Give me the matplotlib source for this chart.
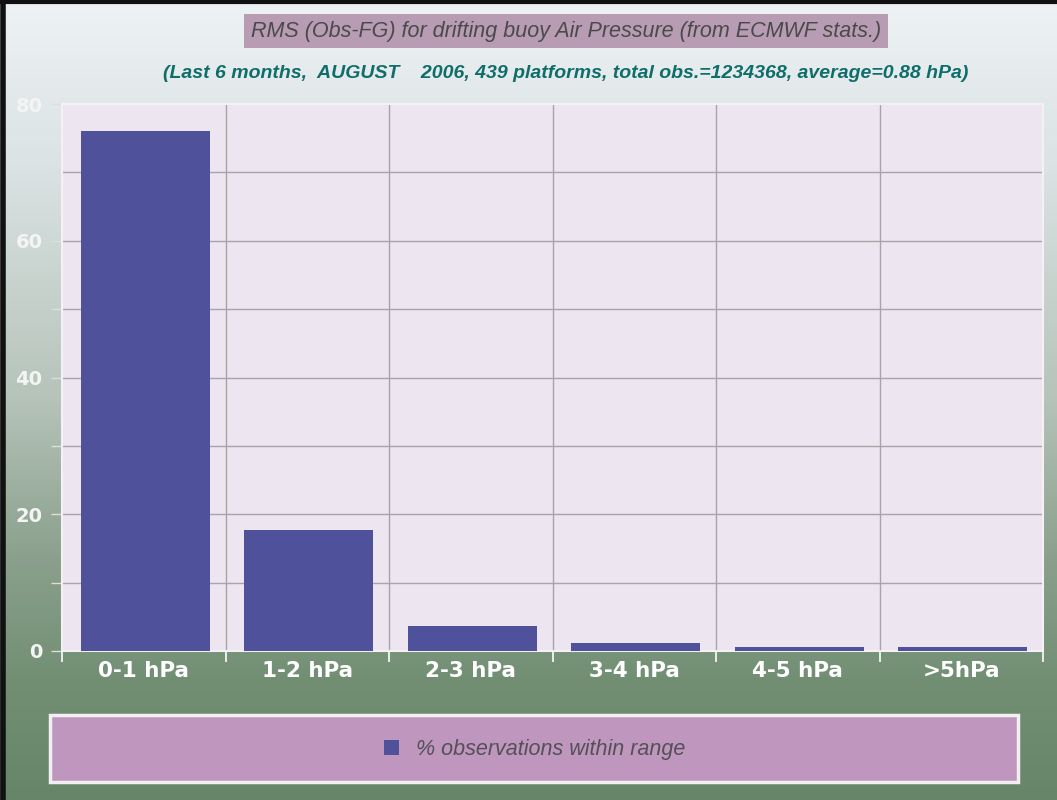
import matplotlib.pyplot as plt
import numpy as np
from matplotlib.patches import Rectangle
from matplotlib.colors import LinearSegmentedColormap

categories = ["0-1 hPa", "1-2 hPa", "2-3 hPa", "3-4 hPa", "4-5 hPa", ">5hPa"]
percent = [76.0, 17.7, 3.7, 1.2, 0.6, 0.6]

title = "RMS (Obs-FG) for drifting buoy Air Pressure (from ECMWF stats.)"
subtitle = ("(Last 6 months,  AUGUST    2006, 439 platforms, total obs.=1234368, "
            "average=0.88 hPa)")
legend_label = "% observations within range"

fig = plt.figure(figsize=(10.57, 8), dpi=100)

# background gradient, light on top to green at the bottom
bg = fig.add_axes([0, 0, 1, 1], zorder=-10)
grad_cmap = LinearSegmentedColormap.from_list(
    "bg", [(0.0, "#678669"), (0.15, "#728f74"), (0.3, "#8aa08c"),
           (0.5, "#b5c3b9"), (0.8, "#dbe3e4"), (1.0, "#eef2f4")])
bg.imshow(np.linspace(0, 1, 256).reshape(-1, 1), aspect="auto", cmap=grad_cmap,
          origin="lower", extent=[0, 1, 0, 1])
bg.set_xlim(0, 1)
bg.set_ylim(0, 1)
bg.axis("off")
# dark frame on left and top
bg.plot([0.003, 0.003], [0, 1], color="#111111", lw=4, transform=bg.transAxes)
bg.plot([0, 1], [0.998, 0.998], color="#111111", lw=3, transform=bg.transAxes)

ax = fig.add_axes([62 / 1057, 1 - 651 / 800, 981 / 1057, 547 / 800])
ax.set_facecolor("#ede5ef")

x = np.arange(len(categories))
ax.bar(x + 0.01, percent, width=0.79, color="#4f529a", zorder=3)

ax.set_xlim(-0.5, len(categories) - 0.5)
ax.set_ylim(0, 80)
ax.set_yticks([0, 20, 40, 60, 80])
ax.set_yticks([10, 30, 50, 70], minor=True)
ax.set_xticks(x)
ax.set_xticklabels(categories, color="white", fontsize=15.5, fontweight="bold")
ax.set_xticks(np.arange(-0.5, len(categories)), minor=True)
ax.tick_params(axis="x", which="major", length=0, pad=7)
ax.tick_params(axis="x", which="minor", length=8, color="white", width=1.2)
ax.tick_params(axis="y", which="both", length=8, color="#dddddd", width=1,
               labelcolor="#f4f4f4", labelsize=14, pad=6)
for lab in ax.get_yticklabels():
    lab.set_fontweight("bold")

# grid every 10 units and at every category boundary
for v in range(10, 80, 10):
    ax.axhline(v, color="#a8a4a8", lw=1, zorder=1)
for b in np.arange(0.5, len(categories) - 1):
    ax.axvline(b, color="#a8a4a8", lw=1, zorder=1)
for s in ax.spines.values():
    s.set_color("#f4f0f4")
    s.set_linewidth(1.5)

# title box
fig.text(566 / 1057, 1 - 31 / 800, title, ha="center", va="center",
         fontsize=15.5, style="italic", color="#4a4a4a", family="Liberation Sans",
         bbox=dict(boxstyle="square,pad=0.3", fc="#b89cb4", ec="none"))
fig.text(566 / 1057, 1 - 74 / 800, subtitle, ha="center", va="center",
         fontsize=14, style="italic", fontweight="bold", color="#106e6a",
         family="Liberation Sans")

# legend box
fig.patches.append(Rectangle((50 / 1057, 1 - 782 / 800), 968 / 1057, 67 / 800,
                             transform=fig.transFigure, fc="#bf96bd",
                             ec="#f2eef2", lw=2.5))
fig.patches.append(Rectangle((384 / 1057, 1 - 755 / 800), 15 / 1057, 15 / 800,
                             transform=fig.transFigure, fc="#4f529a", ec="none"))
fig.text(416 / 1057, 1 - 749 / 800, legend_label, ha="left", va="center",
         fontsize=15.5, style="italic", color="#555058", family="Liberation Sans")

fig.savefig("out.png", dpi=100)
